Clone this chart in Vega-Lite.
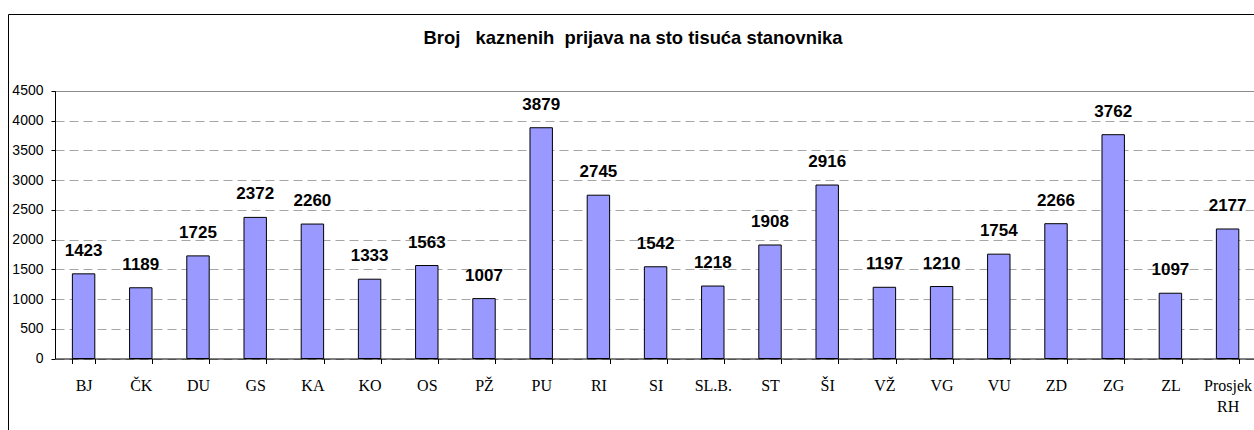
{
  "$schema": "https://vega.github.io/schema/vega-lite/v6.json",
  "width": 1250,
  "height": 430,
  "autosize": {"type": "none"},
  "padding": {"left": 8, "top": 14, "right": 0, "bottom": 0},
  "background": "#ffffff",
  "title": {
    "text": "Broj\u00a0\u00a0 kaznenih\u00a0 prijava na sto tisuća stanovnika",
    "font": "Liberation Sans",
    "fontSize": 18.4,
    "fontWeight": "bold",
    "color": "#000000",
    "anchor": "middle",
    "frame": "group",
    "baseline": "alphabetic",
    "offset": -48
  },
  "config": {
    "view": {"stroke": "#000000", "strokeWidth": 1}
  },
  "data": {
    "values": [
      {"region": "BJ", "value": 1423},
      {"region": "ČK", "value": 1189},
      {"region": "DU", "value": 1725},
      {"region": "GS", "value": 2372},
      {"region": "KA", "value": 2260},
      {"region": "KO", "value": 1333},
      {"region": "OS", "value": 1563},
      {"region": "PŽ", "value": 1007},
      {"region": "PU", "value": 3879},
      {"region": "RI", "value": 2745},
      {"region": "SI", "value": 1542},
      {"region": "SL.B.", "value": 1218},
      {"region": "ST", "value": 1908},
      {"region": "ŠI", "value": 2916},
      {"region": "VŽ", "value": 1197},
      {"region": "VG", "value": 1210},
      {"region": "VU", "value": 1754},
      {"region": "ZD", "value": 2266},
      {"region": "ZG", "value": 3762},
      {"region": "ZL", "value": 1097},
      {"region": "Prosjek RH", "value": 2177}
    ]
  },
  "encoding": {
    "x": {
      "field": "region",
      "type": "nominal",
      "sort": null,
      "scale": {"range": [47, 1248.2], "paddingInner": 0.608, "paddingOuter": 0.304},
      "axis": {
        "title": null,
        "orient": "bottom",
        "offset": -85.5,
        "labelAngle": 0,
        "tickBand": "extent",
        "tickSize": 5,
        "tickColor": "#000000",
        "domainColor": "#000000",
        "labelFont": "Liberation Serif",
        "labelFontSize": 16,
        "labelColor": "#000000",
        "labelPadding": 14,
        "labelLineHeight": 21,
        "labelExpr": "datum.value == 'Prosjek RH' ? ['Prosjek', 'RH'] : datum.value",
        "grid": false
      }
    },
    "y": {
      "field": "value",
      "type": "quantitative",
      "scale": {"domain": [0, 4500], "range": [344.5, 76.8], "nice": false, "zero": true},
      "axis": {
        "title": null,
        "values": [0, 500, 1000, 1500, 2000, 2500, 3000, 3500, 4000, 4500],
        "format": "d",
        "offset": -47,
        "domainColor": "#000000",
        "tickColor": "#000000",
        "tickSize": 4,
        "labelPadding": 8,
        "labelFont": "Liberation Sans",
        "labelFontSize": 14,
        "labelColor": "#000000",
        "grid": true,
        "gridColor": {"condition": {"test": "datum.value === 4500", "value": "#8c8c8c"}, "value": "#a6a6a6"},
        "gridDash": {"condition": {"test": "datum.value === 4500", "value": []}, "value": [9, 5]},
        "gridWidth": 1
      }
    }
  },
  "layer": [
    {
      "mark": {"type": "bar", "fill": "#9999ff", "stroke": "#000000", "strokeWidth": 1}
    },
    {
      "mark": {
        "type": "text",
        "font": "Liberation Sans",
        "fontSize": 17,
        "fontWeight": "bold",
        "color": "#000000",
        "baseline": "middle",
        "dy": -23
      },
      "encoding": {
        "text": {"field": "value", "type": "quantitative", "format": "d"}
      }
    }
  ]
}
